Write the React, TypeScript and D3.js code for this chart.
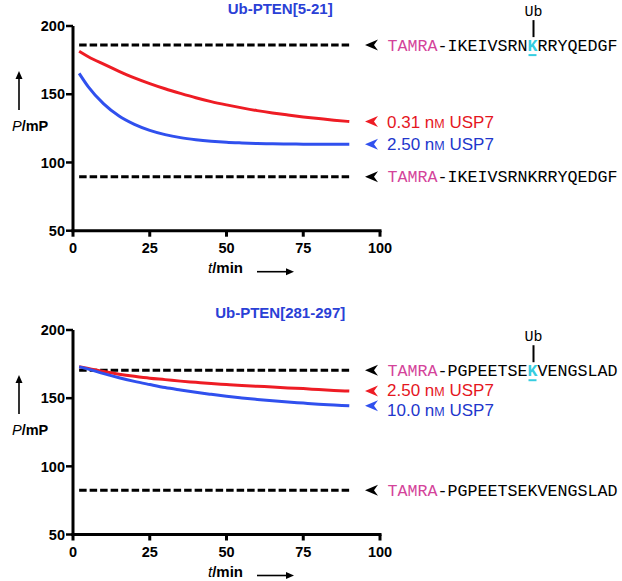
import React from 'react';
import * as d3 from 'd3';

// ---- data ----
const timeMin = [2, 5, 10, 15, 20, 25, 30, 35, 40, 45, 50, 55, 60, 65, 70, 75, 80, 85, 90];

const topRed = [181.5, 177.5, 172, 166.8, 162, 157.8, 154, 150.6, 147.4, 144.6, 142.2, 140, 138, 136.3, 134.8, 133.4, 132.2, 131, 130];
const topBlue = [165.3, 155.4, 142.9, 134, 127.9, 123.5, 120.4, 118.2, 116.7, 115.6, 114.8, 114.3, 113.9, 113.7, 113.5, 113.4, 113.3, 113.3, 113.3];
const bottomRed = [173, 171.8, 169.5, 167.6, 166, 164.6, 163.6, 162.5, 161.6, 160.7, 160, 159.3, 158.7, 158.2, 157.5, 157, 156.3, 155.7, 155.2];
const bottomBlue = [173, 171.3, 168, 165, 162.3, 160, 157.8, 156, 154.3, 152.8, 151.4, 150.2, 149.1, 148.1, 147.2, 146.4, 145.6, 145, 144.4];

const topDashed = [186, 89.5];
const bottomDashed = [170.5, 82.5];
const dashedSpan = [2, 90];

const xTicks = [0, 25, 50, 75, 100];
const yTicks = [50, 100, 150, 200];

const topTitle = 'Ub-PTEN[5-21]';
const bottomTitle = 'Ub-PTEN[281-297]';
const topLabels = ['0.31', '2.50'];
const bottomLabels = ['2.50', '10.0'];
const topPeptide = ['IKEIVSRN', 'K', 'RRYQEDGF'];
const bottomPeptide = ['PGPEETSE', 'K', 'VENGSLAD'];

// ---- style ----
const RED = '#ee1c24';
const BLUE = '#3050ee';
const RED_TXT = '#e5161e';
const BLUE_TXT = '#2236cc';
const TITLE_BLUE = '#2a40d6';
const PINK = '#d4439a';
const CYAN = '#36cde0';
const SANS = '"Liberation Sans", Arial, Helvetica, sans-serif';
const MONO = '"Liberation Mono", "Courier New", Courier, monospace';

const xScale = d3.scaleLinear().domain([0, 100]).range([73, 380]);

function Arrowhead({ x, y, color }: { x: number; y: number; color: string }) {
  const p = `M${x},${y} L${x + 13},${y - 5.5} L${x + 9},${y} L${x + 13},${y + 5.5} Z`;
  return <path d={p} fill={color} />;
}

function PeptideLabel({ y, parts, ub, dy }: { y: number; parts: string[]; ub: boolean; dy: number }) {
  const x0 = 387.5;
  const cw = 10;
  const kIdx = 6 + parts[0].length;
  const kx = x0 + kIdx * cw;
  return (
    <g>
      <Arrowhead x={365} y={y} color="#000" />
      <text x={x0} y={y + dy} fontFamily={MONO} fontSize={16.67} fill="#000">
        <tspan fill={PINK}>TAMRA</tspan>
        <tspan>-{parts[0]}</tspan>
        {ub ? <tspan fill={CYAN} fontWeight="bold">{parts[1]}</tspan> : <tspan>{parts[1]}</tspan>}
        <tspan>{parts[2]}</tspan>
      </text>
      {ub && (
        <g>
          <line x1={kx + 1} x2={kx + cw - 1} y1={y + dy + 4.5} y2={y + dy + 4.5} stroke={CYAN} strokeWidth={2} />
          <line x1={kx + cw / 2 + 1} x2={kx + cw / 2 + 1} y1={y - 25} y2={y - 8} stroke="#000" strokeWidth={2} />
          <text x={kx + cw / 2 + 1} y={y - 29.5} textAnchor="middle" fontFamily={MONO} fontSize={15} fill="#000">Ub</text>
        </g>
      )}
    </g>
  );
}

function ConcLabel({ y, conc, color, textColor, dy }: { y: number; conc: string; color: string; textColor: string; dy: number }) {
  return (
    <g>
      <Arrowhead x={365} y={y} color={color} />
      <text x={387} y={y + dy} fontFamily={SANS} fontSize={17} fill={textColor}>
        {conc} n<tspan fontSize={12.5}>M</tspan> USP7
      </text>
    </g>
  );
}

function Panel({ y0, y1, title, red, blue, dashed, labels, peptide, dyRed, dyBlue }: any) {
  const yScale = d3.scaleLinear().domain([50, 200]).range([y0, y1]);
  const line = d3
    .line<number>()
    .x((_, i) => xScale(timeMin[i]))
    .y((d) => yScale(d))
    .curve(d3.curveMonotoneX);
  const xa = xScale(0);
  const xb = xScale(100);
  const yb = yScale(50);
  const yt = yScale(200);
  return (
    <g>
      <text x={xScale(67.5)} y={yt - 12} textAnchor="middle" fontFamily={SANS} fontWeight="bold" fontSize={15} fill={TITLE_BLUE}>
        {title}
      </text>
      {/* dashed lines */}
      {dashed.map((v: number, i: number) => (
        <line key={i} x1={xScale(dashedSpan[0])} x2={xScale(dashedSpan[1])} y1={yScale(v)} y2={yScale(v)} stroke="#000" strokeWidth={3} strokeDasharray="7.5,3" />
      ))}
      {/* curves */}
      <path d={line(red) || ''} fill="none" stroke={RED} strokeWidth={3} />
      <path d={line(blue) || ''} fill="none" stroke={BLUE} strokeWidth={3} />
      {/* axes */}
      <line x1={xa} x2={xa} y1={yt} y2={yb + 1.5} stroke="#000" strokeWidth={3} />
      <line x1={xa - 1.5} x2={xb + 1.5} y1={yb} y2={yb} stroke="#000" strokeWidth={3} />
      {yTicks.map((t) => (
        <g key={t}>
          <line x1={xa - 7} x2={xa} y1={yScale(t)} y2={yScale(t)} stroke="#000" strokeWidth={2.5} />
          <text x={xa - 8} y={yScale(t)} dy="0.36em" textAnchor="end" fontFamily={SANS} fontWeight="bold" fontSize={14.5} fill="#000">
            {t}
          </text>
        </g>
      ))}
      {xTicks.map((t) => (
        <g key={t}>
          <line x1={xScale(t)} x2={xScale(t)} y1={yb} y2={yb + 6} stroke="#000" strokeWidth={3} />
          <text x={xScale(t)} y={yb + 22.5} textAnchor="middle" fontFamily={SANS} fontWeight="bold" fontSize={14.5} fill="#000">
            {t}
          </text>
        </g>
      ))}
      {/* axis titles */}
      <text x={208} y={yb + 42.5} fontFamily={SANS} fontWeight="bold" fontSize={15} fill="#000">
        <tspan fontStyle="italic" fontWeight="normal">t</tspan>/min
      </text>
      <line x1={257} x2={288} y1={yb + 41} y2={yb + 41} stroke="#000" strokeWidth={1.6} />
      <path d={`M${294},${yb + 41} L${286},${yb + 37.5} L${286},${yb + 44.5} Z`} fill="#000" />
      <line x1={19} x2={19} y1={yt + 84} y2={yt + 52} stroke="#000" strokeWidth={1.6} />
      <path d={`M19,${yt + 45} L15.5,${yt + 53} L22.5,${yt + 53} Z`} fill="#000" />
      <text x={12} y={yt + 105} fontFamily={SANS} fontWeight="bold" fontSize={14.5} fill="#000">
        <tspan fontStyle="italic" fontWeight="normal">P</tspan>/mP
      </text>
      {/* annotations */}
      <PeptideLabel y={yScale(dashed[0])} parts={peptide} ub={true} dy={5.5} />
      <PeptideLabel y={yScale(dashed[1])} parts={peptide} ub={false} dy={5.5} />
      <ConcLabel y={yScale(red[red.length - 1])} conc={labels[0]} color={RED} textColor={RED_TXT} dy={dyRed} />
      <ConcLabel y={yScale(blue[blue.length - 1])} conc={labels[1]} color={BLUE} textColor={BLUE_TXT} dy={dyBlue} />
    </g>
  );
}

export default function App() {
  return (
    <svg width={622} height={581} viewBox="0 0 622 581" style={{ position: 'absolute', left: 0, top: 0, background: '#fff' }}>
      <rect x={0} y={0} width={622} height={581} fill="#fff" />
      <Panel y0={230.7} y1={26} title={topTitle} red={topRed} blue={topBlue} dashed={topDashed} labels={topLabels} peptide={topPeptide} dyRed={6} dyBlue={6} />
      <Panel y0={534.5} y1={330} title={bottomTitle} red={bottomRed} blue={bottomBlue} dashed={bottomDashed} labels={bottomLabels} peptide={bottomPeptide} dyRed={4.5} dyBlue={10} />
    </svg>
  );
}
